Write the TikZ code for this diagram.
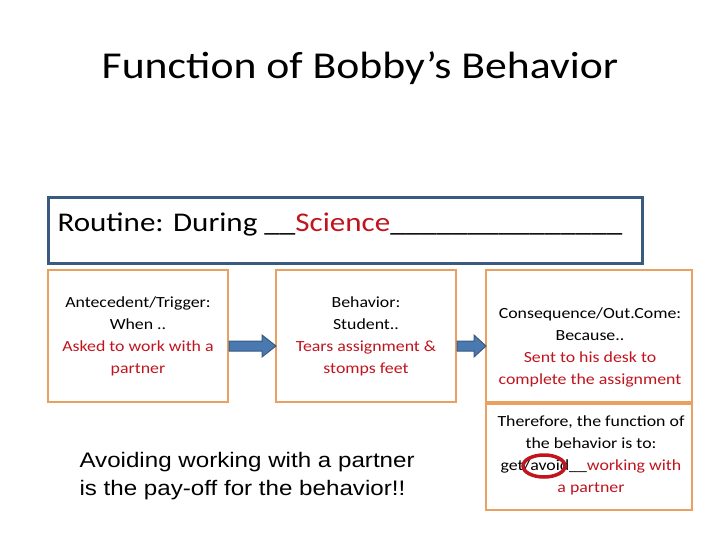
\documentclass[tikz,border=0pt]{standalone}
\usepackage{fontspec}
\setmainfont{Carlito}[FakeStretch=1.15]
\newfontfamily\arialf{Liberation Sans}[FakeStretch=1.15]
\definecolor{obox}{HTML}{E9A060}
\definecolor{bbox}{HTML}{3B5A80}
\definecolor{rtx}{HTML}{C0141E}
\definecolor{arr}{HTML}{4A78B0}
\begin{document}
\begin{tikzpicture}[x=1pt,y=-1pt,
 ob/.style={draw=obox,line width=2.5pt},
 bt/.style={align=center,font=\fontsize{15.5}{22}\selectfont},
 barrow/.style={fill=arr,draw=bbox,line width=1pt}]
\useasboundingbox (0,0) rectangle (720,540);
\node (title) at (360,68) {\fontsize{38}{44}\selectfont Function of Bobby’s Behavior};
\draw[draw=bbox,line width=3pt] (48,198) rectangle (642,263);
\node[anchor=west] (routine) at (54,224) {\fontsize{27}{32}\selectfont Routine: During \_\_\textcolor{rtx}{Science}\_\_\_\_\_\_\_\_\_\_\_\_\_\_\_};
\draw[ob] (48,270) rectangle (228,402);
\draw[ob] (276,270) rectangle (456,402);
\draw[ob] (486,270) rectangle (692,402);
\draw[ob] (486,404) rectangle (692,510);
\node[bt] (a) at (138,336) {Antecedent/Trigger:\\When ..\\\textcolor{rtx}{Asked to work with a}\\\textcolor{rtx}{partner}};
\node[bt] (b) at (366,336) {Behavior:\\Student..\\\textcolor{rtx}{Tears assignment \&}\\\textcolor{rtx}{stomps feet}};
\node[bt] (c) at (590,347) {Consequence/Out.Come:\\Because..\\\textcolor{rtx}{Sent to his desk to}\\\textcolor{rtx}{complete the assignment}};
\node[bt] (d) at (591,455) {Therefore, the function of\\the behavior is to:\\get/avoid\_\_\textcolor{rtx}{working with}\\\textcolor{rtx}{a partner}};
\draw[rtx,line width=3.5pt] (544,466) ellipse (21 and 11);
\draw[barrow] (229,341) -- (262,341) -- (262,335) -- (276,346) -- (262,357) -- (262,351) -- (229,351) -- cycle;
\draw[barrow] (457,341) -- (474,341) -- (474,335) -- (486,346) -- (474,357) -- (474,351) -- (457,351) -- cycle;
\node[anchor=west,align=left,font=\arialf\fontsize{21}{28}\selectfont] (e) at (76,476) {Avoiding working with a partner\\is the pay-off for the behavior!!};
\end{tikzpicture}
\end{document}
